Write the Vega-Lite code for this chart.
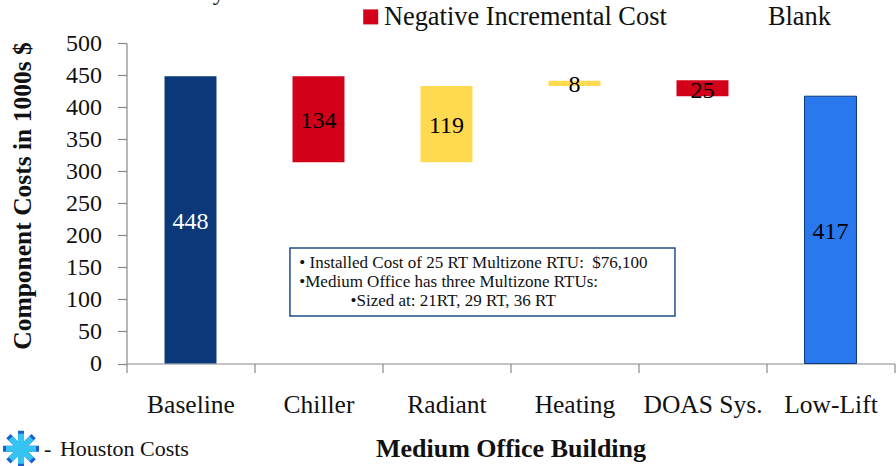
{
"$schema":"https://vega.github.io/schema/vega-lite/v6.json",
"width":768,"height":320.5,
"autosize":{"type":"none"},
"padding":{"left":126.5,"top":43,"right":1.5,"bottom":102.5},
"background":"white",
"config":{"view":{"stroke":null},"text":{"font":"Liberation Serif"},"axisY":{"tickCount":10,"labelOverlap":false}},
"datasets":{"bars":[
{"category":"Baseline","start":0,"end":448,"mid":224,"value":448,"type":"Baseline"},
{"category":"Chiller","start":314,"end":448,"mid":381,"value":134,"type":"Negative Incremental Cost"},
{"category":"Radiant","start":314,"end":433,"mid":373.5,"value":119,"type":"Incremental Cost"},
{"category":"Heating","start":433,"end":441,"mid":437,"value":8,"type":"Incremental Cost"},
{"category":"DOAS Sys.","start":417,"end":442,"mid":429,"value":25,"type":"Negative Incremental Cost"},
{"category":"Low-Lift","start":0,"end":417,"mid":208.5,"value":417,"type":"Low-Lift"}
]},
"layer":[
{"data":{"name":"bars"},
"encoding":{
"x":{"field":"category","type":"nominal","sort":null,
"scale":{"paddingInner":0,"paddingOuter":0},
"axis":{"title":"Medium Office Building","titleFont":"Liberation Serif","titleFontSize":26,"titleFontWeight":"bold","titleColor":"#111","titlePadding":17,
"labelFont":"Liberation Serif","labelFontSize":25.5,"labelColor":"#111","labelAngle":0,"labelPadding":20,"labelFlush":false,
"domainColor":"#888","tickColor":"#888","tickBand":"extent","tickSize":9,"tickWidth":1.2,"domainWidth":1.2,"grid":false}}
},
"layer":[
{"mark":{"type":"bar","width":{"band":0.406}},
"encoding":{
"y":{"field":"start","type":"quantitative","scale":{"domain":[0,500],"nice":false},
"axis":{"title":"Component Costs in 1000s $","titleFont":"Liberation Serif","titleFontSize":25.5,"titleFontWeight":"bold","titleColor":"#111","titlePadding":30,"titleY":152.5,
"labelFont":"Liberation Serif","labelFontSize":24,"labelColor":"#111","labelPadding":16,
"domainColor":"#888","tickColor":"#888","tickSize":9,"tickWidth":1.2,"domainWidth":1.2,"grid":false}},
"y2":{"field":"end"},
"color":{"field":"type","type":"nominal",
"scale":{"domain":["Baseline","Negative Incremental Cost","Incremental Cost","Low-Lift","Blank"],"range":["#0A3878","#D20019","#FFD94F","#2A78EE","#ffffff"]},
"legend":{"title":null,"orient":"none","legendX":226,"legendY":-44.5,"direction":"horizontal","columns":2,"values":["Negative Incremental Cost","Blank"],
"symbolType":"square","symbolSize":225,"symbolStrokeWidth":0,"labelFont":"Liberation Serif","labelFontSize":26.4,"labelColor":"#111","labelLimit":400,"labelOffset":0,"columnPadding":74,"padding":5}},
"stroke":{"condition":{"test":"datum.category==='Low-Lift'","value":"#0A3878"},"value":null},
"strokeWidth":{"value":1}
}},
{"mark":{"type":"text","fontSize":24,"font":"Liberation Serif","dy":2},
"encoding":{
"y":{"field":"mid","type":"quantitative"},
"text":{"field":"value","type":"quantitative"},
"color":{"condition":{"test":"datum.category==='Baseline'","value":"#ffffff"},"value":"#000000"}
}}
]},
{"layer":[
{"data":{"values":[{"x0":1.277,"x1":4.285,"y0":74,"y1":180}]},
"mark":{"type":"rect","fill":"#ffffff","stroke":"#1F4E8C","strokeWidth":1.5},
"encoding":{"x":{"field":"x0","type":"quantitative","scale":{"domain":[0,6],"nice":false,"zero":false},"axis":null},"x2":{"field":"x1"},"y":{"field":"y0","type":"quantitative"},"y2":{"field":"y1"}}},
{"data":{"values":[
{"t":"• Installed Cost of 25 RT Multizone RTU:\u00a0 $76,100","a":1.35,"b":157},
{"t":"•Medium Office has three Multizone RTUs:","a":1.35,"b":127.5},
{"t":"•Sized at: 21RT, 29 RT, 36 RT","a":1.75,"b":98}
]},
"mark":{"type":"text","align":"left","baseline":"middle","fontSize":17,"font":"Liberation Serif","color":"#111"},
"encoding":{"x":{"field":"a","type":"quantitative","scale":{"domain":[0,6],"nice":false,"zero":false},"axis":null},"y":{"field":"b","type":"quantitative"},"text":{"field":"t"}}},
{"data":{"values":[{"t":"-","a":-0.645,"b":-133},{"t":"Houston Costs","a":-0.52,"b":-133}]},
"mark":{"type":"text","align":"left","baseline":"middle","fontSize":22,"font":"Liberation Serif","color":"#111"},
"encoding":{"x":{"field":"a","type":"quantitative","scale":{"domain":[0,6],"nice":false,"zero":false},"axis":null},"y":{"field":"b","type":"quantitative"},"text":{"field":"t"}}},
{"data":{"values":[{"t":"y","a":0.72,"b":567}]},
"mark":{"type":"text","align":"center","baseline":"alphabetic","fontSize":24,"font":"Liberation Serif","color":"#111"},
"encoding":{"x":{"field":"a","type":"quantitative","scale":{"domain":[0,6],"nice":false,"zero":false},"axis":null},"y":{"field":"b","type":"quantitative"},"text":{"field":"t"}}},
{"data":{"values":[{"a":-0.824,"b":-133}]},
"mark":{"type":"point","shape":"M-1,0L1,0M0,-1L0,1M-0.7,-0.7L0.7,0.7M-0.7,0.7L0.7,-0.7","filled":false,"size":1300,"stroke":"#1D5FD0","strokeWidth":6,"opacity":1},
"encoding":{"x":{"field":"a","type":"quantitative","scale":{"domain":[0,6],"nice":false,"zero":false},"axis":null},"y":{"field":"b","type":"quantitative"}}},
{"data":{"values":[{"a":-0.824,"b":-133}]},
"mark":{"type":"point","shape":"M-1,0L1,0M0,-1L0,1M-0.7,-0.7L0.7,0.7M-0.7,0.7L0.7,-0.7","filled":false,"size":900,"stroke":"#35C4F2","strokeWidth":6,"opacity":1},
"encoding":{"x":{"field":"a","type":"quantitative","scale":{"domain":[0,6],"nice":false,"zero":false},"axis":null},"y":{"field":"b","type":"quantitative"}}}
]}
],
"resolve":{"scale":{"x":"independent"},"axis":{"x":"independent"}}
}
